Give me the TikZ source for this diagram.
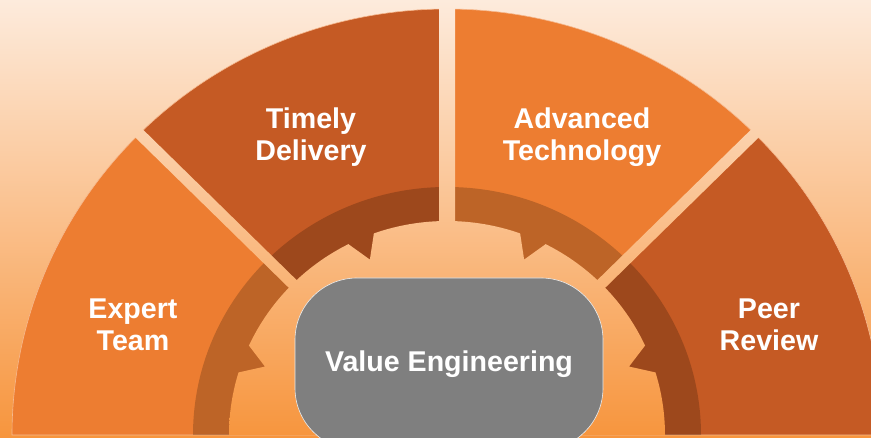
\documentclass[tikz,border=0pt]{standalone}
\usepackage{fontspec}
\setmainfont{Liberation Sans}
\definecolor{bgtop}{HTML}{FDEBDC}
\definecolor{bgbot}{HTML}{F7953D}
\definecolor{seglight}{HTML}{ED7D31}
\definecolor{segdark}{HTML}{C55A24}
\definecolor{coregray}{HTML}{7F7F7F}
\tikzset{
  bg/.style={top color=bgtop, bottom color=bgbot},
  segment/.style={draw=bgtop!55!seglight, line width=0.6pt},
  seglabel/.style={text=white, align=center,
    font=\fontsize{28.6}{32}\selectfont\bfseries},
  core/.style={fill=coregray, draw=white!85!coregray, line width=0.6pt,
    rounded corners=62pt, minimum width=308pt, minimum height=172pt,
    text=white, font=\fontsize{28.6}{32}\selectfont\bfseries},
}

\begin{document}
\begin{tikzpicture}[x=1pt,y=1pt]
  \useasboundingbox (0,0) rectangle (871,438);
  \shade[bg] (0,0) rectangle (871,438);
  \coordinate (c) at (447,3);
  % four segments of the arch
  \foreach \a/\col in {0/segdark,45/seglight,90/segdark,135/seglight}
    \filldraw[segment, fill=\col] (c) -- ++(\a:435 and 426)
      arc[start angle=\a, delta angle=45, x radius=435, y radius=426] -- cycle;
  % dark ring round the gear
  \fill[black, opacity=.2] (c) ++(0:254 and 248)
    arc[start angle=0, end angle=180, x radius=254, y radius=248] -- cycle;
  % gaps between the segments
  \foreach \a/\w in {44.4/5.5,90/8,135.6/5.5}
  {
    \begin{scope}
      \clip[shift={(c)}, rotate=\a] (0,-\w) rectangle (460,\w);
      \shade[bg] (0,0) rectangle (871,438);
    \end{scope}
  }
  % gear
  \begin{scope}
    \clip[shift={(c)}] (0:218 and 214)
      arc[start angle=0, end angle=17, x radius=218, y radius=214]
      -- (21:195 and 191) -- (24.7:218 and 214)
      arc[start angle=24.7, end angle=63.1, x radius=218, y radius=214]
      -- (66.7:195 and 191) -- (70.4:218 and 214)
      arc[start angle=70.4, end angle=109.6, x radius=218, y radius=214]
      -- (113.3:195 and 191) -- (116.9:218 and 214)
      arc[start angle=116.9, end angle=155.3, x radius=218, y radius=214]
      -- (159:195 and 191) -- (163:218 and 214)
      arc[start angle=163, end angle=180, x radius=218, y radius=214]
      -- cycle;
    \shade[bg] (0,0) rectangle (871,438);
  \end{scope}
  \node[core] (core) at (449,74) {Value Engineering};
  \node[seglabel] (expert) at (133,113) {Expert\\Team};
  \node[seglabel] (timely) at (311,301) {Timely\\Delivery};
  \node[seglabel] (advanced) at (582,301) {Advanced\\Technology};
  \node[seglabel] (peer) at (769,113) {Peer\\Review};
\end{tikzpicture}
\end{document}
